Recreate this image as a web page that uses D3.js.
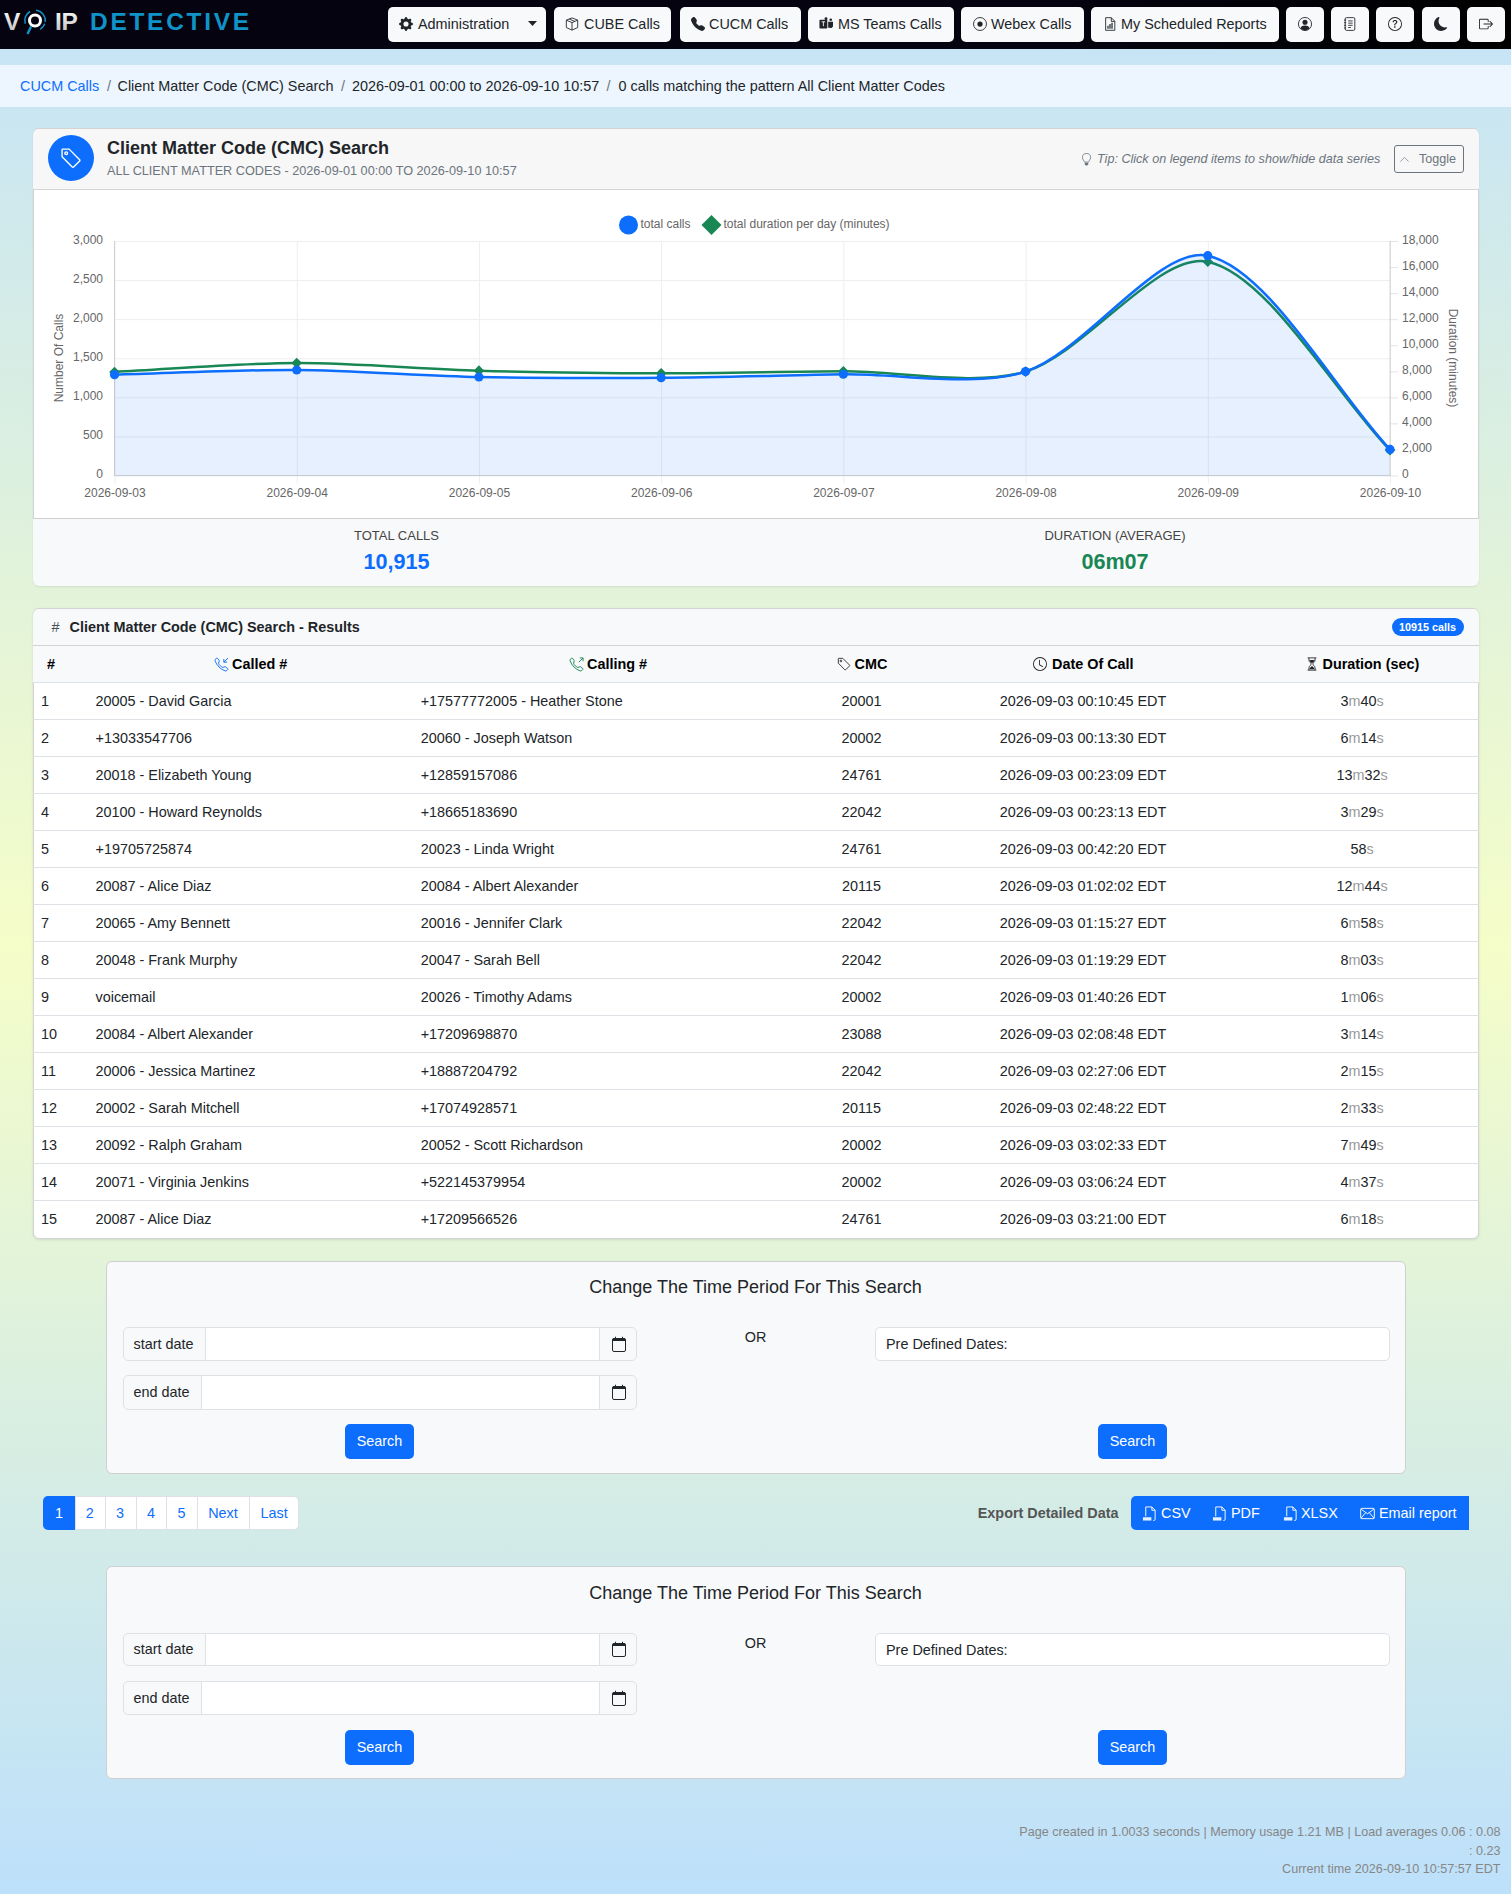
<!DOCTYPE html>
<html>
<head>
<meta charset="utf-8">
<title>Client Matter Code (CMC) Search</title>
<script src="https://cdn.jsdelivr.net/npm/d3@7"></script>
<style>
html, body { margin: 0; padding: 0; }
body { width: 1511px; height: 1894px; position: relative; overflow: hidden;
  font-family: "Liberation Sans", Arial, sans-serif; font-size: 14.4px; color: #212529;
  background: linear-gradient(to bottom, #c4e3f7 0%, #f5fdc8 50%, #bde0fb 100%); }
.abs { position: absolute; box-sizing: border-box; }
.txt { position: absolute; white-space: nowrap; line-height: 1; }
svg { display: block; }
.axis text { font-family: "Liberation Sans", Arial, sans-serif; font-size: 12px; fill: #666; }
.axis .domain { display: none; }
</style>
</head>
<body>
<script>
// chart values
const days = ["2026-09-03", "2026-09-04", "2026-09-05", "2026-09-06", "2026-09-07", "2026-09-08", "2026-09-09", "2026-09-10"];
const totalCalls = [1290, 1350, 1260, 1252, 1295, 1329, 2812, 333];
const totalDuration = [7950, 8640, 8050, 7846, 8000, 7974, 16410, 1950];
const callTicks = [0, 500, 1000, 1500, 2000, 2500, 3000];
const durationTicks = [0, 2000, 4000, 6000, 8000, 10000, 12000, 14000, 16000, 18000];

// table values
const calledNums = ["20005 - David Garcia", "+13033547706", "20018 - Elizabeth Young", "20100 - Howard Reynolds", "+19705725874", "20087 - Alice Diaz", "20065 - Amy Bennett", "20048 - Frank Murphy", "voicemail", "20084 - Albert Alexander", "20006 - Jessica Martinez", "20002 - Sarah Mitchell", "20092 - Ralph Graham", "20071 - Virginia Jenkins", "20087 - Alice Diaz"];
const callingNums = ["+17577772005 - Heather Stone", "20060 - Joseph Watson", "+12859157086", "+18665183690", "20023 - Linda Wright", "20084 - Albert Alexander", "20016 - Jennifer Clark", "20047 - Sarah Bell", "20026 - Timothy Adams", "+17209698870", "+18887204792", "+17074928571", "20052 - Scott Richardson", "+522145379954", "+17209566526"];
const cmcCodes = ["20001", "20002", "24761", "22042", "24761", "20115", "22042", "22042", "20002", "23088", "22042", "20115", "20002", "20002", "24761"];
const callTimes = ["00:10:45", "00:13:30", "00:23:09", "00:23:13", "00:42:20", "01:02:02", "01:15:27", "01:19:29", "01:40:26", "02:08:48", "02:27:06", "02:48:22", "03:02:33", "03:06:24", "03:21:00"];
const durMinutes = [3, 6, 13, 3, null, 12, 6, 8, 1, 3, 2, 2, 7, 4, 6];
const durSeconds = ["40", "14", "32", "29", "58", "44", "58", "03", "06", "14", "15", "33", "49", "37", "18"];

const blue = "#0d6efd";
const green = "#198754";
const body = d3.select("body");

const icons = {
  gear: '<path fill="currentColor" d="M9.405 1.05c-.413-1.4-2.397-1.4-2.81 0l-.1.34a1.464 1.464 0 0 1-2.105.872l-.31-.17c-1.283-.698-2.686.705-1.987 1.987l.169.311c.446.82.023 1.841-.872 2.105l-.34.1c-1.4.413-1.4 2.397 0 2.81l.34.1a1.464 1.464 0 0 1 .872 2.105l-.17.31c-.698 1.283.705 2.686 1.987 1.987l.311-.169a1.464 1.464 0 0 1 2.105.872l.1.34c.413 1.4 2.397 1.4 2.81 0l.1-.34a1.464 1.464 0 0 1 2.105-.872l.31.17c1.283.698 2.686-.705 1.987-1.987l-.169-.311a1.464 1.464 0 0 1 .872-2.105l.34-.1c1.4-.413 1.4-2.397 0-2.81l-.34-.1a1.464 1.464 0 0 1-.872-2.105l.17-.31c.698-1.283-.705-2.686-1.987-1.987l-.311.169a1.464 1.464 0 0 1-2.105-.872l-.1-.34zM8 10.93a2.929 2.929 0 1 1 0-5.86 2.929 2.929 0 0 1 0 5.858z"/>',
  box: '<path fill="none" stroke="currentColor" d="M8 1 14.5 3.6V12L8 15 1.5 12V3.6zM1.5 3.6 8 6.4 14.5 3.6M8 6.4V15M4.8 2.3l6.4 2.7"/>',
  phone: '<path fill="currentColor" d="M1.885.511a1.745 1.745 0 0 1 2.61.163L6.29 2.98c.329.423.445.974.315 1.494l-.547 2.19a.678.678 0 0 0 .178.643l2.457 2.457a.678.678 0 0 0 .644.178l2.189-.547a1.745 1.745 0 0 1 1.494.315l2.306 1.794c.829.645.905 1.87.163 2.611l-1.034 1.034c-.74.74-1.846 1.065-2.877.702a18.634 18.634 0 0 1-7.01-4.42 18.634 18.634 0 0 1-4.42-7.009c-.362-1.03-.037-2.137.703-2.877L1.885.511z"/>',
  teams: '<rect x="0.5" y="3" width="9" height="10" rx="1" fill="currentColor"/><path d="M3 5.5h4M5 5.5v5" stroke="#fff" fill="none"/><circle cx="8" cy="2" r="1.7" fill="currentColor"/><circle cx="13.4" cy="3.2" r="1.5" fill="currentColor"/><path fill="currentColor" d="M10.5 5.5H16V10a2.6 2.6 0 0 1-4 2.2H10.5z"/>',
  webex: '<circle cx="8" cy="8" r="7.4" fill="none" stroke="currentColor"/><circle cx="8" cy="8" r="3" fill="currentColor"/>',
  report: '<path fill="none" stroke="currentColor" d="M3 .8h6.5L13.5 5v10.2H3zM9.5.8V5h4"/><path fill="currentColor" d="M5 10h1.4v3.5H5zM7.3 8h1.4v5.5H7.3zM9.6 6.5H11v7H9.6z"/>',
  person: '<circle cx="8" cy="8" r="7.5" fill="none" stroke="currentColor"/><circle cx="8" cy="6" r="2.9" fill="currentColor"/><path fill="currentColor" d="M2.8 12.8C3.6 10.6 5.5 9.8 8 9.8s4.4.8 5.2 3A7 7 0 0 1 8 15a7 7 0 0 1-5.2-2.2z"/>',
  journal: '<rect x="2.5" y="0.7" width="11" height="14.6" rx="1.5" fill="none" stroke="currentColor"/><path stroke="currentColor" fill="none" d="M6 4.5h5M6 7h5M6 9.5h5M6 12h3M1.2 3.5h2.4M1.2 6.5h2.4M1.2 9.5h2.4M1.2 12.5h2.4"/>',
  question: '<path fill="currentColor" d="M8 15A7 7 0 1 1 8 1a7 7 0 0 1 0 14zm0 1A8 8 0 1 0 8 0a8 8 0 0 0 0 16z"/><path fill="currentColor" d="M5.255 5.786a.237.237 0 0 0 .241.247h.825c.138 0 .248-.113.266-.25.09-.656.54-1.134 1.342-1.134.686 0 1.314.343 1.314 1.168 0 .635-.374.927-.965 1.371-.673.489-1.206 1.06-1.168 1.987l.003.217a.25.25 0 0 0 .25.246h.811a.25.25 0 0 0 .25-.25v-.105c0-.718.273-.927 1.01-1.486.609-.463 1.244-.977 1.244-2.056 0-1.511-1.276-2.241-2.673-2.241-1.267 0-2.655.59-2.75 2.286zm1.557 5.763c0 .533.425.927 1.01.927.609 0 1.028-.394 1.028-.927 0-.552-.42-.94-1.029-.94-.584 0-1.009.388-1.009.94z"/>',
  moon: '<path fill="currentColor" d="M6 .278a.768.768 0 0 1 .08.858 7.208 7.208 0 0 0-.878 3.46c0 4.021 3.278 7.277 7.318 7.277.527 0 1.04-.055 1.533-.16a.787.787 0 0 1 .81.316.733.733 0 0 1-.031.893A8.349 8.349 0 0 1 8.344 16C3.734 16 0 12.286 0 7.71 0 4.266 2.114 1.312 5.124.06A.752.752 0 0 1 6 .278z"/>',
  logout: '<path fill="currentColor" d="M10 12.5a.5.5 0 0 1-.5.5h-8a.5.5 0 0 1-.5-.5v-9a.5.5 0 0 1 .5-.5h8a.5.5 0 0 1 .5.5v2a.5.5 0 0 0 1 0v-2A1.5 1.5 0 0 0 9.5 2h-8A1.5 1.5 0 0 0 0 3.5v9A1.5 1.5 0 0 0 1.5 14h8a1.5 1.5 0 0 0 1.5-1.5v-2a.5.5 0 0 0-1 0v2z"/><path fill="currentColor" d="M15.854 8.354a.5.5 0 0 0 0-.708l-3-3a.5.5 0 0 0-.708.708L14.293 7.5H5.5a.5.5 0 0 0 0 1h8.793l-2.147 2.146a.5.5 0 0 0 .708.708l3-3z"/>',
  tag: '<path fill="none" stroke="currentColor" d="M2 1.5h4.6l7.7 7.7a.7.7 0 0 1 0 1L9.9 14.6a.7.7 0 0 1-1 0L1.5 7V2a.5.5 0 0 1 .5-.5z"/><circle cx="4.5" cy="4.5" r="1" fill="none" stroke="currentColor"/>',
  bulb: '<path fill="none" stroke="currentColor" d="M5.6 11.2C5.3 9.6 3 8.4 3 5.6a5 5 0 0 1 10 0c0 2.8-2.3 4-2.6 5.6z"/><path fill="currentColor" d="M5.8 12h4.4v2.2L8.8 15.5H7.2L5.8 14.2z"/>',
  chevron: '<path fill="none" stroke="currentColor" d="M2 11 8 5l6 6"/>',
  inbound: '<path fill="none" stroke="currentColor" d="M3.654 1.328a.678.678 0 0 0-1.015-.063L1.605 2.3c-.483.484-.661 1.169-.45 1.77a17.568 17.568 0 0 0 4.168 6.608 17.569 17.569 0 0 0 6.608 4.168c.601.211 1.286.033 1.77-.45l1.034-1.034a.678.678 0 0 0-.063-1.015l-2.307-1.794a.678.678 0 0 0-.58-.122l-2.19.547a1.745 1.745 0 0 1-1.657-.459L5.482 8.062a1.745 1.745 0 0 1-.46-1.657l.548-2.19a.678.678 0 0 0-.122-.58L3.654 1.328zM15 1l-4.5 4.5M10.5 2v3.5H14"/>',
  outbound: '<path fill="none" stroke="currentColor" d="M3.654 1.328a.678.678 0 0 0-1.015-.063L1.605 2.3c-.483.484-.661 1.169-.45 1.77a17.568 17.568 0 0 0 4.168 6.608 17.569 17.569 0 0 0 6.608 4.168c.601.211 1.286.033 1.77-.45l1.034-1.034a.678.678 0 0 0-.063-1.015l-2.307-1.794a.678.678 0 0 0-.58-.122l-2.19.547a1.745 1.745 0 0 1-1.657-.459L5.482 8.062a1.745 1.745 0 0 1-.46-1.657l.548-2.19a.678.678 0 0 0-.122-.58L3.654 1.328zM10.5 5.5 15 1M11.5 1H15v3.5"/>',
  clock: '<path fill="currentColor" d="M8 3.5a.5.5 0 0 0-1 0V9a.5.5 0 0 0 .252.434l3.5 2a.5.5 0 0 0 .496-.868L8 8.71V3.5z"/><path fill="currentColor" d="M8 16A8 8 0 1 0 8 0a8 8 0 0 0 0 16zm7-8A7 7 0 1 1 1 8a7 7 0 0 1 14 0z"/>',
  hourglass: '<path fill="none" stroke="currentColor" d="M3 1h10M3 15h10M4.5 1v2.5C4.5 6 7.3 7 7.3 8S4.5 10 4.5 12.5V15M11.5 1v2.5C11.5 6 8.7 7 8.7 8s2.8 2 2.8 4.5V15"/><path fill="currentColor" d="M5.2 3.5h5.6C10.6 5.5 8.6 6.6 8 7.4 7.4 6.6 5.4 5.5 5.2 3.5zM5 14c.3-2 2.4-3 3-3.8.6.8 2.7 1.8 3 3.8z"/>',
  calendar: '<rect x="1.5" y="2.5" width="13" height="13" rx="1.5" fill="none" stroke="currentColor"/><path fill="currentColor" d="M3 2h10a1.5 1.5 0 0 1 1.5 1.5V5h-13V3.5A1.5 1.5 0 0 1 3 2zM4 .7h1V3H4zM11 .7h1V3h-1z"/>',
  filecsv: '<path fill="none" stroke="currentColor" d="M4 11V1h6.5L14 4.5V14a1.5 1.5 0 0 1-1.5 1.5H12M10.5 1v3.5H14"/><path fill="currentColor" d="M1 12h9v3.5H1z" opacity=".9"/>',
  envelope: '<rect x="0.7" y="2.5" width="14.6" height="11" rx="1.2" fill="none" stroke="currentColor"/><path fill="none" stroke="currentColor" d="M1 3.2 8 8.3l7-5.1M1 13l5-5.8M15 13l-5-5.8"/>'
};

// plain helpers to place boxes, text and icons on the page
function box(parent, x, y, w, h, css) {
  const el = parent.append("div").attr("class", "abs")
    .style("left", x + "px").style("top", y + "px")
    .style("width", w + "px").style("height", h + "px");
  Object.entries(css || {}).forEach(([k, v]) => el.style(k, v));
  return el;
}

// x is the anchor, y is the vertical centre of the text
function label(parent, str, x, y, opts) {
  const o = Object.assign({ size: 14.4, anchor: "start", color: "#212529", weight: "normal", style: "normal" }, opts);
  const tx = o.anchor === "middle" ? "-50%" : o.anchor === "end" ? "-100%" : "0";
  return parent.append("div").attr("class", "txt").text(str)
    .style("left", x + "px").style("top", y + "px")
    .style("transform", `translate(${tx}, -50%)`)
    .style("font-size", o.size + "px").style("color", o.color)
    .style("font-weight", o.weight).style("font-style", o.style);
}

function icon(parent, name, x, y, size, color) {
  const s = parent.append("svg").attr("viewBox", "0 0 16 16")
    .attr("width", size).attr("height", size)
    .style("position", "absolute")
    .style("left", (x - size / 2) + "px").style("top", (y - size / 2) + "px")
    .style("color", color || "#212529");
  s.html(icons[name]);
  return s;
}

// navbar
box(body, 0, 0, 1511, 49, { background: "linear-gradient(to right, #05030f, #05030f 70%, #000)" });
const logo = body.append("svg").attr("width", 260).attr("height", 49)
  .style("position", "absolute").style("left", 0).style("top", 0);
const logoGrad = logo.append("defs").append("linearGradient").attr("id", "logoWhite")
  .attr("x1", 0).attr("x2", 0).attr("y1", 0).attr("y2", 1);
logoGrad.append("stop").attr("offset", 0).attr("stop-color", "#fff");
logoGrad.append("stop").attr("offset", 1).attr("stop-color", "#bbb");
[["V", 4], ["I", 55], ["P", 61.5]].forEach(([c, x]) => {
  logo.append("text").attr("x", x).attr("y", 29.5).text(c)
    .attr("fill", "url(#logoWhite)").attr("font-size", 24.5).attr("font-weight", "bold")
    .attr("font-family", "Liberation Sans, Arial, sans-serif");
});
logo.append("text").attr("x", 90).attr("y", 29.5).text("DETECTIVE")
  .attr("fill", "#0f93c8").attr("font-size", 24.5).attr("font-weight", "bold").attr("letter-spacing", 2.7)
  .attr("font-family", "Liberation Sans, Arial, sans-serif");
logo.append("circle").attr("cx", 35).attr("cy", 20.5).attr("r", 5.5).attr("fill", "none").attr("stroke", "#fff").attr("stroke-width", 3);
logo.append("path").attr("d", d3.arc()({ innerRadius: 9.5, outerRadius: 11, startAngle: 0.1, endAngle: 1.7 })).attr("transform", "translate(35,20.5)").attr("fill", "#0f93c8");
logo.append("path").attr("d", d3.arc()({ innerRadius: 9.5, outerRadius: 11, startAngle: -1.9, endAngle: -0.5 })).attr("transform", "translate(35,20.5)").attr("fill", "#0f93c8");
logo.append("path").attr("d", d3.arc()({ innerRadius: 9.5, outerRadius: 11, startAngle: 1.9, endAngle: 2.6 })).attr("transform", "translate(35,20.5)").attr("fill", "#0f93c8");
logo.append("path").attr("d", "M31 26.5 27.5 34").attr("stroke", "#0f93c8").attr("stroke-width", 2.4);

const navButtons = [
  { x0: 388, x1: 546, ic: "gear", ix: 406, text: "Administration", tx: 418 },
  { x0: 553.5, x1: 671, ic: "box", ix: 572, text: "CUBE Calls", tx: 584 },
  { x0: 679.5, x1: 800.5, ic: "phone", ix: 698, text: "CUCM Calls", tx: 709 },
  { x0: 807.5, x1: 953.5, ic: "teams", ix: 825.5, text: "MS Teams Calls", tx: 838 },
  { x0: 960.5, x1: 1083.5, ic: "webex", ix: 979.5, text: "Webex Calls", tx: 991 },
  { x0: 1090.5, x1: 1278.5, ic: "report", ix: 1109.5, text: "My Scheduled Reports", tx: 1121 },
  { x0: 1285.5, x1: 1323.5, ic: "person", ix: 1304.5 },
  { x0: 1330.5, x1: 1368.5, ic: "journal", ix: 1349.5 },
  { x0: 1375.5, x1: 1413.5, ic: "question", ix: 1394.5 },
  { x0: 1421.5, x1: 1459.5, ic: "moon", ix: 1440.5 },
  { x0: 1466.5, x1: 1504.5, ic: "logout", ix: 1485.5 }
];
navButtons.forEach(b => {
  box(body, b.x0, 7, b.x1 - b.x0, 35, { background: "#f8f9fa", "border-radius": "5px" });
  icon(body, b.ic, b.ix, 24, 14);
  if (b.text) label(body, b.text, b.tx, 24);
});
body.append("svg").attr("width", 10).attr("height", 6).style("position", "absolute")
  .style("left", "528px").style("top", "21px")
  .append("path").attr("d", "M0 0H9L4.5 5z").attr("fill", "#212529");

// breadcrumb
box(body, 0, 65, 1511, 42, { background: "#edf6fe" });
label(body, "CUCM Calls", 20, 85.5, { color: blue });
label(body, "/", 107, 85.5, { color: "#6c757d" });
label(body, "Client Matter Code (CMC) Search", 117.5, 85.5);
label(body, "/", 341, 85.5, { color: "#6c757d" });
label(body, "2026-09-01 00:00 to 2026-09-10 10:57", 352, 85.5);
label(body, "/", 606.5, 85.5, { color: "#6c757d" });
label(body, "0 calls matching the pattern All Client Matter Codes", 618.5, 85.5);

// chart card
box(body, 32.5, 128, 1446.5, 458, { background: "#fff", border: "1px solid #d3d3d3", "border-radius": "6px", "box-shadow": "0 1px 2px rgba(0,0,0,.08)" });
box(body, 33, 129, 1445.5, 60.5, { background: "#f7f7f7", "border-bottom": "1px solid #d4d4d4", "border-radius": "6px 6px 0 0" });
box(body, 48, 135, 46, 46, { background: blue, "border-radius": "50%" });
icon(body, "tag", 71, 158, 22, "#fff");
label(body, "Client Matter Code (CMC) Search", 107, 148, { size: 18, weight: "bold" });
label(body, "ALL CLIENT MATTER CODES - 2026-09-01 00:00 TO 2026-09-10 10:57", 107, 171, { size: 12.7, color: "#6c757d" });
icon(body, "bulb", 1086, 159, 13, "#6c757d");
label(body, "Tip: Click on legend items to show/hide data series", 1097, 158.5, { size: 12.6, color: "#6c757d", style: "italic" });
box(body, 1393.5, 145, 70, 28, { border: "1px solid #6c757d", "border-radius": "3px" });
icon(body, "chevron", 1404.5, 159, 11, "#6c757d");
label(body, "Toggle", 1419, 158.5, { size: 12.6, color: "#6c757d" });

// stats under the chart
box(body, 33, 518, 1445.5, 67.5, { background: "#f8f9fa", "border-top": "1px solid #cfcfcf", "border-radius": "0 0 6px 6px" });
label(body, "TOTAL CALLS", 396.5, 535, { size: 13, anchor: "middle", color: "#444" });
label(body, "10,915", 396.5, 562, { size: 21.6, anchor: "middle", color: blue, weight: "bold" });
label(body, "DURATION (AVERAGE)", 1115, 535, { size: 13, anchor: "middle", color: "#444" });
label(body, "06m07", 1115, 562, { size: 21.6, anchor: "middle", color: green, weight: "bold" });

// Same spline as Chart.js tension: control points scale with neighbour distances
class TensionCurve {
  constructor(context, t) { this._c = context; this._t = t; this._line = NaN; }
  areaStart() { this._line = 0; }
  areaEnd() { this._line = NaN; }
  lineStart() { this._p = []; }
  point(x, y) { this._p.push([+x, +y]); }
  lineEnd() {
    const p = this._p, t = this._t, n = p.length;
    const ctrl = p.map((cur, i) => {
      const prev = p[i - 1] || cur, next = p[i + 1] || cur;
      const d01 = Math.hypot(cur[0] - prev[0], cur[1] - prev[1]);
      const d12 = Math.hypot(next[0] - cur[0], next[1] - cur[1]);
      const tot = d01 + d12 || 1;
      const fa = t * d01 / tot, fb = t * d12 / tot;
      return {
        a: [cur[0] - fa * (next[0] - prev[0]), cur[1] - fa * (next[1] - prev[1])],
        b: [cur[0] + fb * (next[0] - prev[0]), cur[1] + fb * (next[1] - prev[1])]
      };
    });
    p.forEach((cur, i) => {
      if (i === 0) {
        if (this._line) this._c.lineTo(cur[0], cur[1]); else this._c.moveTo(cur[0], cur[1]);
      } else {
        this._c.bezierCurveTo(ctrl[i - 1].b[0], ctrl[i - 1].b[1], ctrl[i].a[0], ctrl[i].a[1], cur[0], cur[1]);
      }
    });
    if (this._line || (this._line !== 0 && n === 1)) this._c.closePath();
    this._line = 1 - this._line;
  }
}
const curveTension = ctx => new TensionCurve(ctx, 0.3);

// chart
const plotLeft = 114.5, plotRight = 1390, plotTop = 241, plotBottom = 475.5;
const svg = body.append("svg").attr("width", 1511).attr("height", 520)
  .style("position", "absolute").style("left", 0).style("top", 0);

const x = d3.scalePoint().domain(days).range([plotLeft, plotRight]);
const yCalls = d3.scaleLinear().domain([0, 3000]).range([plotBottom, plotTop]);
const yDur = d3.scaleLinear().domain([0, 18000]).range([plotBottom, plotTop]);

svg.append("g").attr("class", "axis x-axis")
  .attr("transform", `translate(0,${plotBottom})`)
  .call(d3.axisBottom(x).tickSizeInner(8).tickPadding(5).tickSizeOuter(0))
  .call(g => g.selectAll("line").attr("y1", -(plotBottom - plotTop)).attr("stroke", "rgba(0,0,0,.07)"));

svg.append("g").attr("class", "axis left-axis")
  .attr("transform", `translate(${plotLeft},0)`)
  .call(d3.axisLeft(yCalls).tickValues(callTicks).tickFormat(d3.format(",")).tickSize(0).tickPadding(11.5))
  .call(g => g.selectAll("line").attr("x2", plotRight - plotLeft).attr("stroke", "#eeeeee"))
  .call(g => g.selectAll("text").attr("dy", "0.2em"));

svg.append("g").attr("class", "axis right-axis")
  .attr("transform", `translate(${plotRight},0)`)
  .call(d3.axisRight(yDur).tickValues(durationTicks).tickFormat(d3.format(",")).tickSize(8).tickPadding(4))
  .call(g => g.selectAll("line").attr("stroke", "#e4e4e4"))
  .call(g => g.selectAll("text").attr("dy", "0.2em"));

[[plotLeft, plotTop, plotLeft, plotBottom], [plotRight, plotTop, plotRight, plotBottom], [plotLeft, plotBottom, plotRight, plotBottom]].forEach(s => {
  svg.append("line").attr("x1", s[0]).attr("y1", s[1]).attr("x2", s[2]).attr("y2", s[3]).attr("stroke", "rgba(0,0,0,.15)");
});

svg.append("text").text("Number Of Calls")
  .attr("transform", "translate(63,358) rotate(-90)")
  .attr("text-anchor", "middle").attr("font-size", 12).attr("fill", "#666");
svg.append("text").text("Duration (minutes)")
  .attr("transform", "translate(1449,358) rotate(90)")
  .attr("text-anchor", "middle").attr("font-size", 12).attr("fill", "#666");

// duration series first, calls stay on top of it
svg.append("path").datum(totalDuration)
  .attr("fill", "none").attr("stroke", green).attr("stroke-width", 2.5)
  .attr("d", d3.line().x((d, i) => x(days[i])).y(d => yDur(d)).curve(curveTension));

svg.append("g").selectAll("path").data(totalDuration).join("path")
  .attr("d", d3.symbol().type(d3.symbolSquare).size(56))
  .attr("fill", green)
  .attr("transform", (d, i) => `translate(${x(days[i])},${yDur(d)}) rotate(45)`);

svg.append("path").datum(totalCalls)
  .attr("fill", "rgba(13,110,253,.1)")
  .attr("d", d3.area().x((d, i) => x(days[i])).y0(plotBottom).y1(d => yCalls(d)).curve(curveTension));

svg.append("path").datum(totalCalls)
  .attr("fill", "none").attr("stroke", blue).attr("stroke-width", 2.5)
  .attr("d", d3.line().x((d, i) => x(days[i])).y(d => yCalls(d)).curve(curveTension));

svg.append("g").selectAll("circle").data(totalCalls).join("circle")
  .attr("cx", (d, i) => x(days[i])).attr("cy", d => yCalls(d)).attr("r", 4.6)
  .attr("fill", blue);

// legend
svg.append("path").attr("d", d3.symbol().type(d3.symbolCircle).size(Math.PI * 9.5 * 9.5))
  .attr("transform", "translate(628.5,225)").attr("fill", blue);
svg.append("text").text("total calls").attr("x", 640.5).attr("y", 224).attr("dy", ".35em")
  .attr("font-size", 12).attr("fill", "#666");
svg.append("path").attr("d", d3.symbol().type(d3.symbolSquare).size(200))
  .attr("transform", "translate(711.5,225) rotate(45)").attr("fill", green);
svg.append("text").text("total duration per day (minutes)").attr("x", 723.5).attr("y", 224).attr("dy", ".35em")
  .attr("font-size", 12).attr("fill", "#666");

// results card
box(body, 32.5, 608, 1446.5, 630.5, { background: "#fff", border: "1px solid #d3d3d3", "border-radius": "6px", "box-shadow": "0 1px 3px rgba(0,0,0,.1)" });
box(body, 33, 609, 1445.5, 36.5, { background: "#f8f9fa", "border-bottom": "1px solid #d4d4d4", "border-radius": "6px 6px 0 0" });
label(body, "#", 51.5, 627, { color: "#495057" });
label(body, "Client Matter Code (CMC) Search - Results", 69.5, 627, { size: 14.4, weight: "bold" });
box(body, 1391.5, 618, 72, 18, { background: blue, "border-radius": "9px" });
label(body, "10915 calls", 1427.5, 627, { size: 10.8, color: "#fff", weight: "bold", anchor: "middle" });

box(body, 33, 645.5, 1445.5, 37, { background: "#f8f9fa", "border-bottom": "1px solid #dee2e6" });
const headY = 664;
const headBold = { weight: "bold", color: "#000" };
label(body, "#", 51, headY, Object.assign({ anchor: "middle" }, headBold));
icon(body, "inbound", 221, headY, 15, blue);
label(body, "Called #", 232, headY, headBold);
icon(body, "outbound", 576, headY, 15, green);
label(body, "Calling #", 587, headY, headBold);
icon(body, "tag", 844, headY, 14, "#212529");
label(body, "CMC", 854.5, headY, headBold);
icon(body, "clock", 1040, headY, 14, "#212529");
label(body, "Date Of Call", 1052, headY, headBold);
icon(body, "hourglass", 1312, headY, 14, "#212529");
label(body, "Duration (sec)", 1322.5, headY, headBold);

const rows = body.selectAll(".row").data(d3.range(calledNums.length)).join("div")
  .attr("class", "abs row")
  .style("left", "33px").style("width", "1445.5px").style("height", "37px")
  .style("top", i => (682.5 + i * 37) + "px")
  .style("border-bottom", (i) => i === calledNums.length - 1 ? "none" : "1px solid #dee2e6");

rows.each(function(i) {
  const r = d3.select(this);
  const midY = 18;
  label(r, String(i + 1), 8, midY);
  label(r, calledNums[i], 62.5, midY);
  label(r, callingNums[i], 387.7, midY);
  label(r, cmcCodes[i], 828.5, midY, { anchor: "middle" });
  label(r, `2026-09-03 ${callTimes[i]} EDT`, 1050, midY, { anchor: "middle" });
  const dur = label(r, "", 1329, midY, { anchor: "middle" });
  if (durMinutes[i] !== null) {
    dur.append("span").text(durMinutes[i]);
    dur.append("span").text("m").style("color", "#999");
  }
  dur.append("span").text(durSeconds[i]);
  dur.append("span").text("s").style("color", "#999");
});

// time period panels, same block twice
function searchPanel(top) {
  box(body, 106, top - 0.5, 1299.5, 213, { background: "#f8f9fa", border: "1px solid #cfcfcf", "border-radius": "6px" });
  label(body, "Change The Time Period For This Search", 755.5, top + 26, { size: 18, anchor: "middle" });
  [{ dy: 66, h: 33.5, txt: "start date", split: 204.5 }, { dy: 114, h: 34.5, txt: "end date", split: 200.5 }].forEach(g => {
    box(body, 122.5, top + g.dy, 514.5, g.h, { background: "#f8f9fa", border: "1px solid #dee2e6", "border-radius": "5px" });
    box(body, g.split, top + g.dy, 599.5 - g.split, g.h, { background: "#fff", border: "1px solid #dee2e6" });
    label(body, g.txt, 133.5, top + g.dy + g.h / 2);
    icon(body, "calendar", 618.5, top + g.dy + g.h / 2, 16);
  });
  label(body, "OR", 755.5, top + 76, { size: 14.4, anchor: "middle" });
  box(body, 875, top + 66, 515, 33.5, { background: "#fff", border: "1px solid #dee2e6", "border-radius": "5px" });
  label(body, "Pre Defined Dates:", 886, top + 83);
  [[345, 69], [1098, 69]].forEach(b => {
    box(body, b[0], top + 163, b[1], 35, { background: blue, "border-radius": "5px" });
    label(body, "Search", b[0] + b[1] / 2, top + 180, { anchor: "middle", color: "#fff" });
  });
}
searchPanel(1261);
searchPanel(1566.5);

// pagination
const pageEdges = [43, 75.2, 104.5, 135.6, 166.3, 196.5, 249.4, 299];
const pageLabels = ["1", "2", "3", "4", "5", "Next", "Last"];
box(body, 43, 1496, 256, 34, { background: "#fff", border: "1px solid #dee2e6", "border-radius": "5px" });
box(body, 43, 1496, 32.2, 34, { background: blue, "border-radius": "5px 0 0 5px" });
pageLabels.forEach((p, i) => {
  if (i > 0) box(body, pageEdges[i], 1496, 1, 34, { background: "#dee2e6" });
  label(body, p, (pageEdges[i] + pageEdges[i + 1]) / 2, 1512.5, { anchor: "middle", color: i === 0 ? "#fff" : blue });
});

// export buttons
label(body, "Export Detailed Data", 1118.5, 1512.5, { size: 14.4, anchor: "end", color: "#555", weight: "bold" });
box(body, 1131, 1496, 338, 34, { background: blue, "border-radius": "5px 0 0 5px" });
[["filecsv", 1149, "CSV", 1161], ["filecsv", 1219.5, "PDF", 1231], ["filecsv", 1290, "XLSX", 1301], ["envelope", 1367.5, "Email report", 1379]].forEach(e => {
  icon(body, e[0], e[1], 1513, 15, "#fff");
  label(body, e[2], e[3], 1512.5, { color: "#fff" });
});

// page footer
[["Page created in 1.0033 seconds | Memory usage 1.21 MB | Load averages 0.06 : 0.08", 1832], [": 0.23", 1851], ["Current time 2026-09-10 10:57:57 EDT", 1869]].forEach(f => {
  label(body, f[0], 1500.5, f[1], { size: 12.6, anchor: "end", color: "#868686" });
});
</script>
</body>
</html>
